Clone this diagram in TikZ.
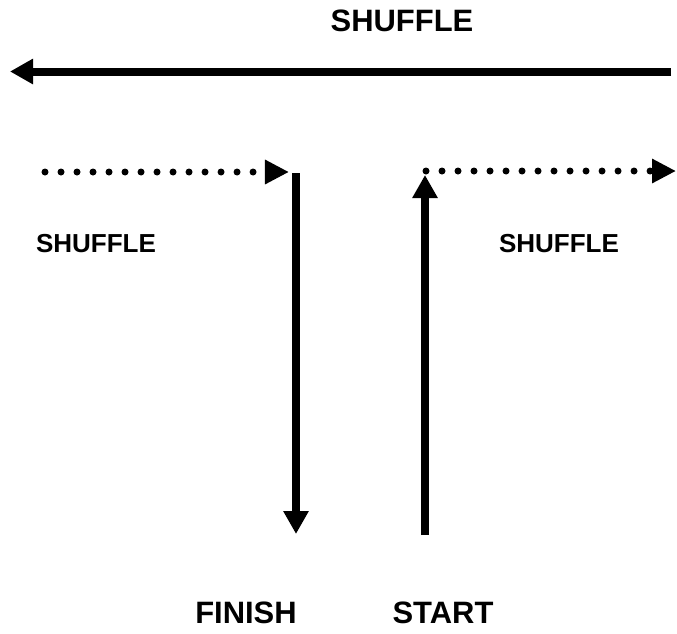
\documentclass[tikz,border=0pt]{standalone}
\usepackage{fontspec}
\setmainfont{Liberation Sans}
\usetikzlibrary{arrows.meta}

\tikzset{
    bigarrow/.style={line width=0.2cm, -{Triangle[length=0.575cm,width=0.6cm]}},
    dotarrow/.style={line width=0.175cm, line cap=round, dash pattern=on 0pt off 0.4cm,
        -{Triangle[length=0.6cm,width=0.575cm]}},
    biglabel/.style={font=\fontsize{22}{26}\selectfont\bfseries, inner sep=0pt},
    smalllabel/.style={font=\fontsize{18.5}{22}\selectfont\bfseries, inner sep=0pt}
}

\begin{document}
\begin{tikzpicture}[x=0.025cm, y=-0.025cm]
    \useasboundingbox (0,0) rectangle (677,633);

    \node[biglabel] (shuffletop) at (402,21) {SHUFFLE};
    \node[smalllabel] (shuffleleft) at (96,243.5) {SHUFFLE};
    \node[smalllabel] (shuffleright) at (559,243.5) {SHUFFLE};
    \node[biglabel] (finish) at (246,613) {FINISH};
    \node[biglabel] (start) at (443,613) {START};

    \coordinate (topR) at (671,71.5);
    \coordinate (topL) at (10,71.5);
    \coordinate (dotLs) at (45,172);
    \coordinate (dotLe) at (289,172);
    \coordinate (downS) at (296,173);
    \coordinate (downE) at (296,534);
    \coordinate (upS) at (425,535);
    \coordinate (upE) at (425,175);
    \coordinate (dotRs) at (426,171);
    \coordinate (dotRe) at (676,171);

    \draw[bigarrow] (topR) -- (topL);
    \draw[dotarrow] (dotLs) -- (dotLe);
    \draw[bigarrow] (downS) -- (downE);
    \draw[bigarrow] (upS) -- (upE);
    \draw[dotarrow] (dotRs) -- (dotRe);
\end{tikzpicture}
\end{document}
